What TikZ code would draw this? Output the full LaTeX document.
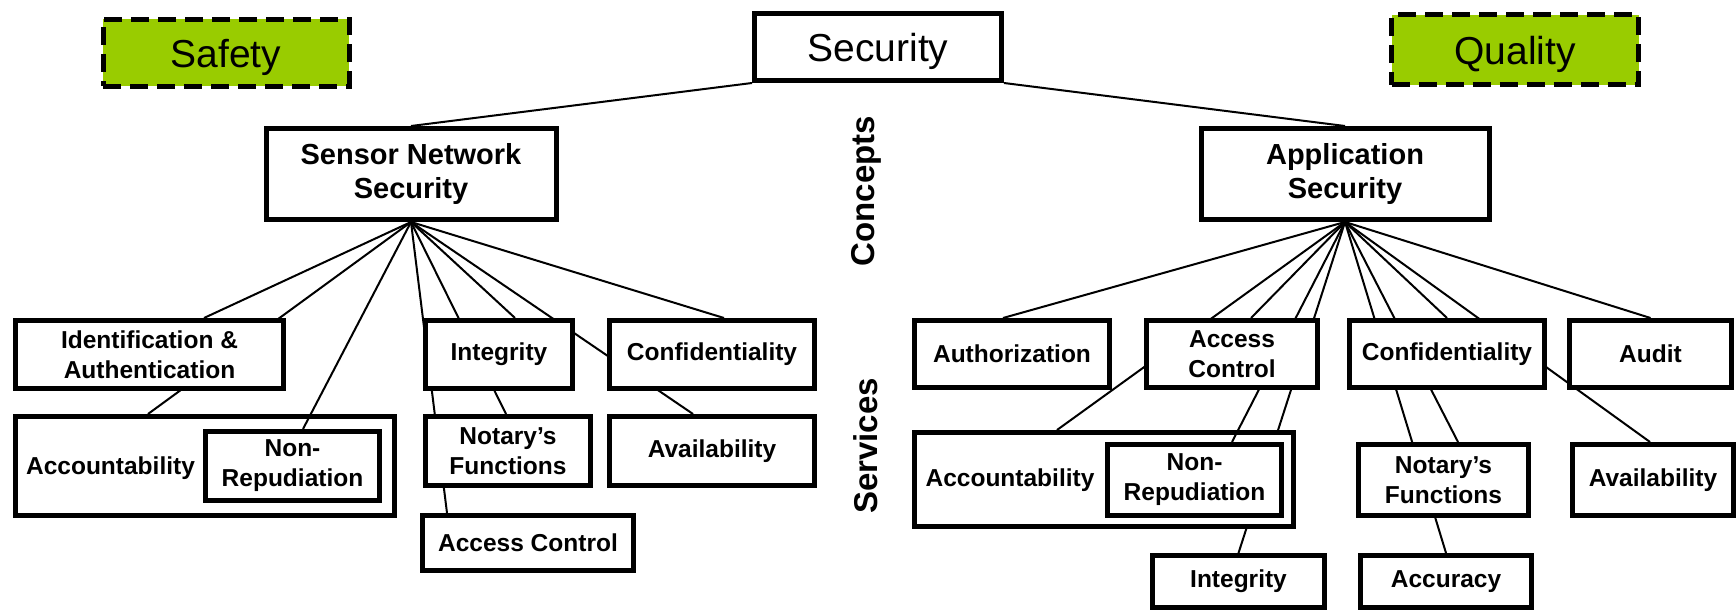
\documentclass[tikz,border=0pt]{standalone}
\usepackage{fontspec}
\setmainfont{Liberation Sans}
\pgfdeclarelayer{l0}
\pgfdeclarelayer{l1}
\pgfdeclarelayer{l2}
\pgfsetlayers{l0,l1,l2,main}
\definecolor{safegreen}{HTML}{99CC00}
\begin{document}
\begin{tikzpicture}[x=1pt,y=-1pt,
  box/.style={draw, line width=5pt, fill=white, inner sep=0pt, align=center, font=\bfseries\fontsize{24.5}{30}\selectfont},
  topbox/.style={box, font=\bfseries\fontsize{29}{34}\selectfont},
  headbox/.style={box, text depth=0pt, font=\fontsize{39}{44}\selectfont},
  tagbox/.style={draw, line width=5pt, dash pattern=on 18pt off 9pt, fill=safegreen, inner sep=0pt, text depth=0pt, font=\fontsize{39}{44}\selectfont},
  link/.style={line width=2pt},
  side/.style={rotate=90, inner sep=0pt, font=\bfseries\fontsize{33}{38}\selectfont},
  lbl/.style={inner sep=0pt, font=\bfseries\fontsize{24.5}{30}\selectfont}
]
\useasboundingbox (0,0) rectangle (1736,612);

% top level
\node[headbox, minimum width=247pt, minimum height=67pt] (sec) at (878,47) {Security};
\node[tagbox, minimum width=246pt, minimum height=67pt] (safety) at (226,53) {Safety};
\node[tagbox, minimum width=247pt, minimum height=70pt] (quality) at (1515,50) {Quality};
\node[topbox, minimum width=290pt, minimum height=91pt] (sns) at (411,174) {Sensor Network\\Security};
\node[topbox, minimum width=288pt, minimum height=91pt] (app) at (1345,174) {Application\\Security};
\node[side] (concepts) at (866,191) {Concepts};
\node[side] (services) at (866,446) {Services};

% outer accountability boxes
\begin{pgfonlayer}{l1}
\node[box, minimum width=379pt, minimum height=99pt] (accL) at (205,466) {};
\node[box, minimum width=379pt, minimum height=94pt] (accR) at (1104,479.5) {};
\end{pgfonlayer}

% left services
\node[box, minimum width=268pt, minimum height=68pt] (ident) at (149.5,354.5) {Identification \&\\Authentication};
\node[lbl] (accLt) at (110.5,468) {Accountability};
\node[box, minimum width=174pt, minimum height=69pt] (nrL) at (292.5,466) {Non-\\Repudiation};
\node[box, minimum width=147pt, minimum height=68pt] (intL) at (499,354.5) {Integrity};
\node[box, minimum width=205pt, minimum height=68pt] (confL) at (712,354.5) {Confidentiality};
\node[box, minimum width=165pt, minimum height=69pt] (notL) at (508,451) {Notary's\\Functions};
\node[box, minimum width=205pt, minimum height=69pt] (avL) at (712,451) {Availability};
\node[box, minimum width=211pt, minimum height=55pt] (acL) at (528,543) {Access Control};

% right services
\node[box, minimum width=195pt, minimum height=67pt] (auth) at (1012,354) {Authorization};
\node[box, minimum width=171pt, minimum height=67pt] (acR) at (1232,354) {Access\\Control};
\node[box, minimum width=195pt, minimum height=67pt] (confR) at (1447,354) {Confidentiality};
\node[box, minimum width=162pt, minimum height=67pt] (audit) at (1650.5,354) {Audit};
\node[lbl] (accRt) at (1010,480) {Accountability};
\node[box, minimum width=174pt, minimum height=71pt] (nrR) at (1194.5,480) {Non-\\Repudiation};
\node[box, minimum width=170pt, minimum height=71pt] (notR) at (1443.5,480) {Notary's\\Functions};
\node[box, minimum width=161pt, minimum height=71pt] (avR) at (1653,480) {Availability};
\node[box, minimum width=172pt, minimum height=52pt] (intR) at (1238.5,581.5) {Integrity};
\node[box, minimum width=171pt, minimum height=52pt] (accu) at (1446,581.5) {Accuracy};

% connectors hidden by the outer accountability box
\begin{pgfonlayer}{l0}
\draw[link] (app.south) -- (intR.north);
\end{pgfonlayer}

\begin{pgfonlayer}{l2}
\draw[link] (sec.south west) -- (sns.north);
\draw[link] (sec.south east) -- (app.north);
% left fan
\draw[link] (sns.south) -- ([xshift=54.5pt]ident.north);
\draw[link] (sns.south) -- ([xshift=-57pt]accL.north);
\draw[link] (sns.south) -- ([xshift=10.5pt]nrL.north);
\draw[link] (sns.south) -- ([xshift=-81pt]acL.north);
\draw[link] (sns.south) -- ([xshift=-2pt]notL.north);
\draw[link] (sns.south) -- ([xshift=16pt]intL.north);
\draw[link] (sns.south) -- ([xshift=-19pt]avL.north);
\draw[link] (sns.south) -- ([xshift=12pt]confL.north);
% right fan
\draw[link] (app.south) -- ([xshift=-9pt]auth.north);
\draw[link] (app.south) -- ([xshift=-47pt]accR.north);
\draw[link] (app.south) -- ([xshift=19pt]acR.north);
\draw[link] (app.south) -- ([xshift=37.5pt]nrR.north);
\draw[link] (app.south) -- (accu.north);
\draw[link] (app.south) -- ([xshift=14.5pt]notR.north);
\draw[link] (app.south) -- (confR.north);
\draw[link] (app.south) -- ([xshift=-3pt]avR.north);
\draw[link] (app.south) -- (audit.north);
\end{pgfonlayer}
\end{tikzpicture}
\end{document}
